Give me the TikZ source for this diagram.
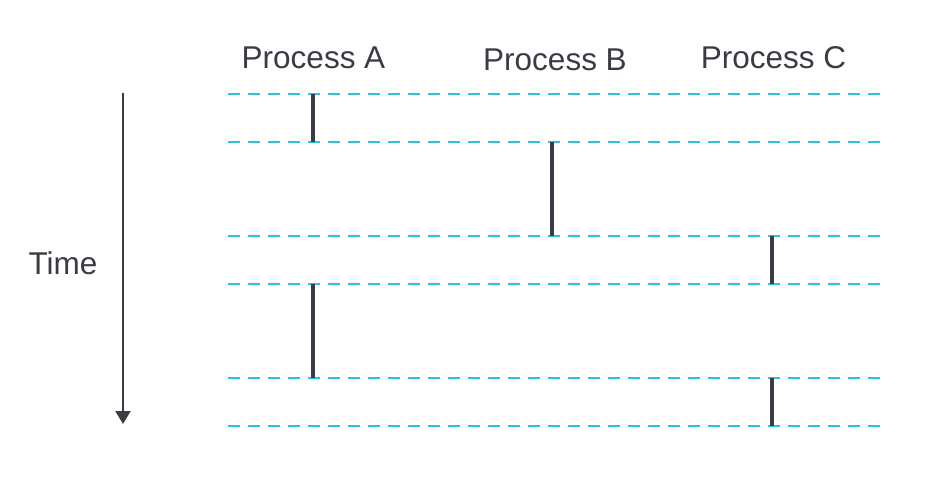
\documentclass[tikz,border=0pt]{standalone}
\usepackage{fontspec}
\setmainfont{Liberation Sans}
\usetikzlibrary{arrows.meta}
\definecolor{ink}{HTML}{3A3B44}
\definecolor{cyanline}{HTML}{2CC4DF}
\tikzset{
  timeline/.style={cyanline, line width=2.2pt, dash pattern=on 11.5pt off 8.5pt},
  busy/.style={ink, line width=4pt},
  lbl/.style={text=ink, font=\fontsize{31.5}{37}\selectfont, anchor=base, inner sep=0pt},
  timearrow/.style={ink, line width=2pt, -{Triangle[width=15pt,length=13pt]}}
}
\begin{document}
\begin{tikzpicture}[x=1pt,y=-1pt]
\useasboundingbox (0,0) rectangle (937,481);
% labels
\node[lbl] (pa) at (313.5,68.5) {Process A};
\node[lbl] (pb) at (555,70.5) {Process B};
\node[lbl] (pc) at (773.5,68.5) {Process C};
\node[lbl] (time) at (63,274) {Time};
% time arrow
\coordinate (ts) at (123,93);
\coordinate (te) at (123,424);
\draw[timearrow] (ts) -- (te);
% dashed lines
\foreach \n/\y in {1/94,2/142,3/236,4/284,5/378,6/426}{
  \coordinate (l\n) at (228,\y);
  \coordinate (r\n) at (882,\y);
  \draw[timeline] (l\n) -- (r\n);
}
% busy bars
\coordinate (a1) at (313,94);  \coordinate (a2) at (313,142);
\coordinate (b1) at (552,142); \coordinate (b2) at (552,236);
\coordinate (c1) at (772,236); \coordinate (c2) at (772,284);
\coordinate (a3) at (313,284); \coordinate (a4) at (313,378);
\coordinate (c3) at (772,378); \coordinate (c4) at (772,426);
\draw[busy] (a1) -- (a2);
\draw[busy] (b1) -- (b2);
\draw[busy] (c1) -- (c2);
\draw[busy] (a3) -- (a4);
\draw[busy] (c3) -- (c4);
\end{tikzpicture}
\end{document}
